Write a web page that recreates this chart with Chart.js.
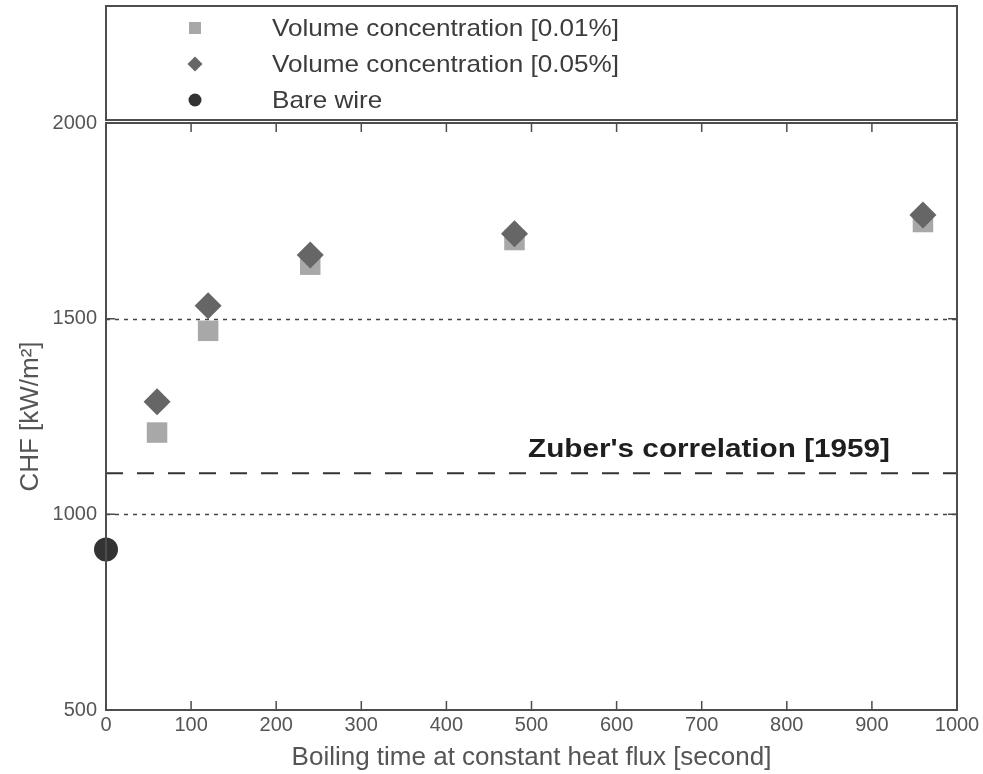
<!DOCTYPE html>
<html>
<head>
<meta charset="utf-8">
<script src="https://cdn.jsdelivr.net/npm/chart.js@4.4.1/dist/chart.umd.min.js"></script>
<style>
  html, body { margin: 0; background: #fff; }
  canvas { display: block; }
</style>
</head>
<body>
<canvas id="graficoChf" width="983" height="774"></canvas>
<script>
// datos
const tiempos = [60, 120, 240, 480, 960];
const chf001 = [1209, 1469, 1638, 1701, 1747];
const chf005 = [1288, 1533, 1663, 1717, 1765];
const tiempoBare = [0];
const chfBare = [910];
const zuberChf = 1105;
const zuberRango = [0, 1000];
const xTicks = [0, 100, 200, 300, 400, 500, 600, 700, 800, 900, 1000];
const yTicks = [500, 1000, 1500, 2000];
const yPunteadas = [1000, 1500];
const nombresSerie = ["Volume concentration [0.01%]", "Volume concentration [0.05%]", "Bare wire"];
const zuberTexto = "Zuber's correlation [1959]";

const FUENTE = "'Liberation Sans', Arial, sans-serif";
const GRIS_MARCO = "#4d4d4d";
const colores = ["#a8a8a8", "#666666", "#333333"];

function puntos(xs, ys) {
    return xs.map((x, i) => ({ x: x, y: ys[i] }));
}

// texto estirado a lo ancho (la fuente del original es mas ancha)
function textoAncho(ctx, texto, x, y, escala) {
    ctx.save();
    ctx.translate(x, y);
    ctx.scale(escala, 1);
    ctx.fillText(texto, 0, 0);
    ctx.restore();
}

const marcoPlugin = {
    id: "marco",
    beforeDatasetsDraw(chart) {
        const { ctx, chartArea: a, scales } = chart;
        ctx.save();
        ctx.strokeStyle = "#444";
        ctx.lineWidth = 1.5;
        ctx.setLineDash([4, 5]);
        yPunteadas.forEach(v => {
            const py = Math.round(scales.y.getPixelForValue(v)) + 0.5;
            ctx.beginPath();
            ctx.moveTo(a.left, py);
            ctx.lineTo(a.right, py);
            ctx.stroke();
        });
        ctx.restore();
    },
    afterDraw(chart) {
        const { ctx, chartArea: a, scales } = chart;
        ctx.save();
        ctx.strokeStyle = GRIS_MARCO;
        ctx.lineWidth = 2;
        ctx.setLineDash([]);
        ctx.strokeRect(a.left, a.top, a.right - a.left, a.bottom - a.top);

        // marcas hacia adentro
        ctx.lineWidth = 1.5;
        ctx.beginPath();
        xTicks.forEach(v => {
            const px = scales.x.getPixelForValue(v);
            ctx.moveTo(px, a.bottom); ctx.lineTo(px, a.bottom - 9);
            ctx.moveTo(px, a.top); ctx.lineTo(px, a.top + 9);
        });
        yTicks.forEach(v => {
            const py = scales.y.getPixelForValue(v);
            ctx.moveTo(a.left, py); ctx.lineTo(a.left + 9, py);
            ctx.moveTo(a.right, py); ctx.lineTo(a.right - 9, py);
        });
        ctx.stroke();

        // caja de la leyenda
        ctx.lineWidth = 2;
        ctx.strokeRect(a.left, 6, a.right - a.left, a.top - 3 - 6);

        const filas = [28, 64, 100];
        const estilos = [
            { pointStyle: "rect", radius: 8.5, rotation: 0 },
            { pointStyle: "rectRot", radius: 7.5, rotation: 0 },
            { pointStyle: "circle", radius: 6.5, rotation: 0 }
        ];
        ctx.font = "24px " + FUENTE;
        ctx.textBaseline = "middle";
        ctx.textAlign = "left";
        const escala = 347 / ctx.measureText(nombresSerie[0]).width;
        filas.forEach((fy, i) => {
            ctx.fillStyle = colores[i];
            ctx.strokeStyle = colores[i];
            ctx.lineWidth = 1;
            ctx.beginPath();
            Chart.helpers.drawPoint(ctx, estilos[i], 195, fy);
            ctx.fillStyle = "#3c3c3c";
            textoAncho(ctx, nombresSerie[i], 272, fy + 1, escala);
        });

        // etiqueta de Zuber
        ctx.font = "bold 25px " + FUENTE;
        ctx.fillStyle = "#1e1e1e";
        const yz = scales.y.getPixelForValue(zuberChf) - 23;
        const escZ = 362 / ctx.measureText(zuberTexto).width;
        textoAncho(ctx, zuberTexto, 528, yz, escZ);
        ctx.restore();
    }
};

new Chart(document.getElementById("graficoChf"), {
    type: "scatter",
    data: {
        datasets: [
            {
                type: "line",
                label: "Zuber",
                data: zuberRango.map(x => ({ x: x, y: zuberChf })),
                borderColor: "#333",
                borderWidth: 2,
                borderDash: [17, 14],
                pointRadius: 0,
                order: 3
            },
            {
                label: nombresSerie[0],
                data: puntos(tiempos, chf001),
                pointStyle: "rect",
                pointRadius: 14.5,
                backgroundColor: colores[0],
                borderColor: colores[0],
                borderWidth: 0,
                clip: false,
                order: 2
            },
            {
                label: nombresSerie[1],
                data: puntos(tiempos, chf005),
                pointStyle: "rectRot",
                pointRadius: 13.5,
                backgroundColor: colores[1],
                borderColor: colores[1],
                borderWidth: 0,
                clip: false,
                order: 1
            },
            {
                label: nombresSerie[2],
                data: puntos(tiempoBare, chfBare),
                pointStyle: "circle",
                pointRadius: 12,
                backgroundColor: colores[2],
                borderColor: colores[2],
                borderWidth: 0,
                clip: false,
                order: 0
            }
        ]
    },
    options: {
        responsive: false,
        animation: false,
        layout: { padding: { top: 123, right: 26, left: 0, bottom: 0 } },
        plugins: {
            legend: { display: false },
            tooltip: { enabled: false }
        },
        scales: {
            x: {
                type: "linear",
                min: 0,
                max: 1000,
                afterBuildTicks: s => { s.ticks = xTicks.map(v => ({ value: v })); },
                afterFit: s => { s.height = 64; },
                grid: { display: false, drawTicks: false },
                border: { display: false },
                ticks: {
                    color: "#555",
                    padding: 3,
                    maxRotation: 0,
                    callback: v => String(v),
                    font: { family: FUENTE, size: 20 }
                },
                title: {
                    display: true,
                    text: "Boiling time at constant heat flux [second]",
                    color: "#555",
                    padding: { top: 0, bottom: 1 },
                    font: { family: FUENTE, size: 26 }
                }
            },
            y: {
                min: 500,
                max: 2000,
                afterBuildTicks: s => { s.ticks = yTicks.map(v => ({ value: v })); },
                afterFit: s => { s.width = 106; },
                grid: { display: false, drawTicks: false },
                border: { display: false },
                ticks: {
                    color: "#555",
                    padding: 9,
                    callback: v => String(v),
                    font: { family: FUENTE, size: 20 }
                },
                title: {
                    display: true,
                    text: "CHF [kW/m²]",
                    color: "#555",
                    padding: { top: 15, bottom: 0 },
                    font: { family: FUENTE, size: 26 }
                }
            }
        }
    },
    plugins: [marcoPlugin]
});
</script>
</body>
</html>
